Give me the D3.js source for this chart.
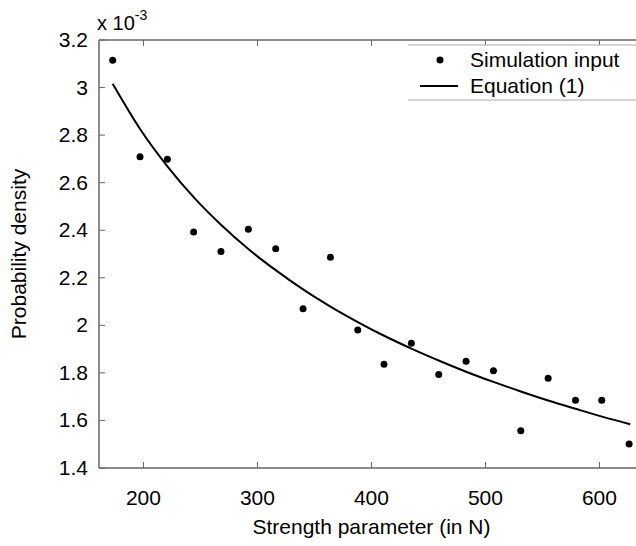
<!DOCTYPE html>
<html><head><meta charset="utf-8">
<script src="https://cdn.jsdelivr.net/npm/d3@7"></script>
<style>body{margin:0;background:#fff}svg{display:block}text{font-family:"Liberation Sans",Arial,sans-serif;fill:#000}</style>
</head><body><svg id="c" width="636" height="546"></svg>
<script>
// Simulation input (values in units of 1e-3)
const simX = [173, 197, 221, 244, 268, 292, 316, 340, 364, 388, 411, 435, 459, 483, 507, 531, 555, 579, 602, 626];
const simY = [3.115, 2.709, 2.698, 2.393, 2.311, 2.404, 2.322, 2.070, 2.286, 1.980, 1.836, 1.925, 1.793, 1.849, 1.809, 1.557, 1.777, 1.685, 1.685, 1.501];
// Equation (1) curve
const eqX = [173, 197, 221, 245, 268, 292, 316, 340, 364, 388, 412, 436, 460, 483, 507, 531, 555, 579, 603, 627];
const eqY = [3.016, 2.826, 2.669, 2.534, 2.423, 2.321, 2.232, 2.151, 2.079, 2.014, 1.954, 1.900, 1.850, 1.805, 1.762, 1.722, 1.684, 1.649, 1.615, 1.584];
const xTicks = [200, 300, 400, 500, 600];
const yTicks = [1.4, 1.6, 1.8, 2, 2.2, 2.4, 2.6, 2.8, 3, 3.2];
const legendLabels = ["Simulation input", "Equation (1)"];

const svg = d3.select("#c");
const L = 99, T = 40, B = 468;
const x = d3.scaleLinear().domain([161, 640]).range([L, L + 479 * 1.14]);
const y = d3.scaleLinear().domain([1.4, 3.2]).range([B, T]);
const fs = 21;
const axisCol = "#666";

// axes lines
svg.append("line").attr("x1", L).attr("x2", 636).attr("y1", B).attr("y2", B).attr("stroke", axisCol).attr("stroke-width", 1.5);
svg.append("line").attr("x1", L).attr("x2", 636).attr("y1", T).attr("y2", T).attr("stroke", axisCol).attr("stroke-width", 1.5);
svg.append("line").attr("x1", L).attr("x2", L).attr("y1", T).attr("y2", B).attr("stroke", axisCol).attr("stroke-width", 1.5);

// ticks
xTicks.forEach(t => {
  svg.append("line").attr("x1", x(t)).attr("x2", x(t)).attr("y1", B).attr("y2", B - 6).attr("stroke", axisCol);
  svg.append("line").attr("x1", x(t)).attr("x2", x(t)).attr("y1", T).attr("y2", T + 6).attr("stroke", axisCol);
  svg.append("text").attr("x", x(t)).attr("y", 505).attr("text-anchor", "middle").attr("font-size", fs).text(d3.format("d")(t));
});
yTicks.forEach(t => {
  svg.append("line").attr("x1", L).attr("x2", L + 6).attr("y1", y(t)).attr("y2", y(t)).attr("stroke", axisCol);
  svg.append("text").attr("x", 88).attr("y", y(t) + 7).attr("text-anchor", "end").attr("font-size", fs).text(d3.format("~g")(t));
});

// exponent label
const ex = svg.append("text").attr("x", 97).attr("y", 30).attr("font-size", fs - 1);
ex.append("tspan").text("x 10");
ex.append("tspan").attr("dy", -10).attr("font-size", 14).text("-3");

// axis titles
svg.append("text").attr("x", (L + 636) / 2 + 4).attr("y", 534).attr("text-anchor", "middle").attr("font-size", fs).text("Strength parameter (in N)");
svg.append("text").attr("transform", `translate(26,${(T + B) / 2}) rotate(-90)`).attr("text-anchor", "middle").attr("font-size", fs).text("Probability density");

// curve
const eq = eqX.map((v, i) => [v, eqY[i]]);
svg.append("path").datum(eq)
  .attr("d", d3.line().x(d => x(d[0])).y(d => y(d[1])).curve(d3.curveMonotoneX))
  .attr("fill", "none").attr("stroke", "#000").attr("stroke-width", 2);

// points
svg.selectAll("circle.pt").data(simX.map((v, i) => [v, simY[i]])).enter().append("circle")
  .attr("class", "pt").attr("cx", d => x(d[0])).attr("cy", d => y(d[1])).attr("r", 3.5).attr("fill", "#000");

// legend
const lg = svg.append("g");
lg.append("rect").attr("x", 408).attr("y", 45).attr("width", 240).attr("height", 55).attr("fill", "#fff");
lg.append("line").attr("x1", 408).attr("x2", 636).attr("y1", 45).attr("y2", 45).attr("stroke", "#aaa");
lg.append("line").attr("x1", 408).attr("x2", 636).attr("y1", 100).attr("y2", 100).attr("stroke", "#aaa");
lg.append("circle").attr("cx", 440).attr("cy", 60).attr("r", 3.5).attr("fill", "#000");
lg.append("line").attr("x1", 420).attr("x2", 458).attr("y1", 86).attr("y2", 86).attr("stroke", "#000").attr("stroke-width", 2);
lg.append("text").attr("x", 470).attr("y", 67).attr("font-size", fs).text(legendLabels[0]);
lg.append("text").attr("x", 470).attr("y", 93).attr("font-size", fs).text(legendLabels[1]);
</script></body></html>
